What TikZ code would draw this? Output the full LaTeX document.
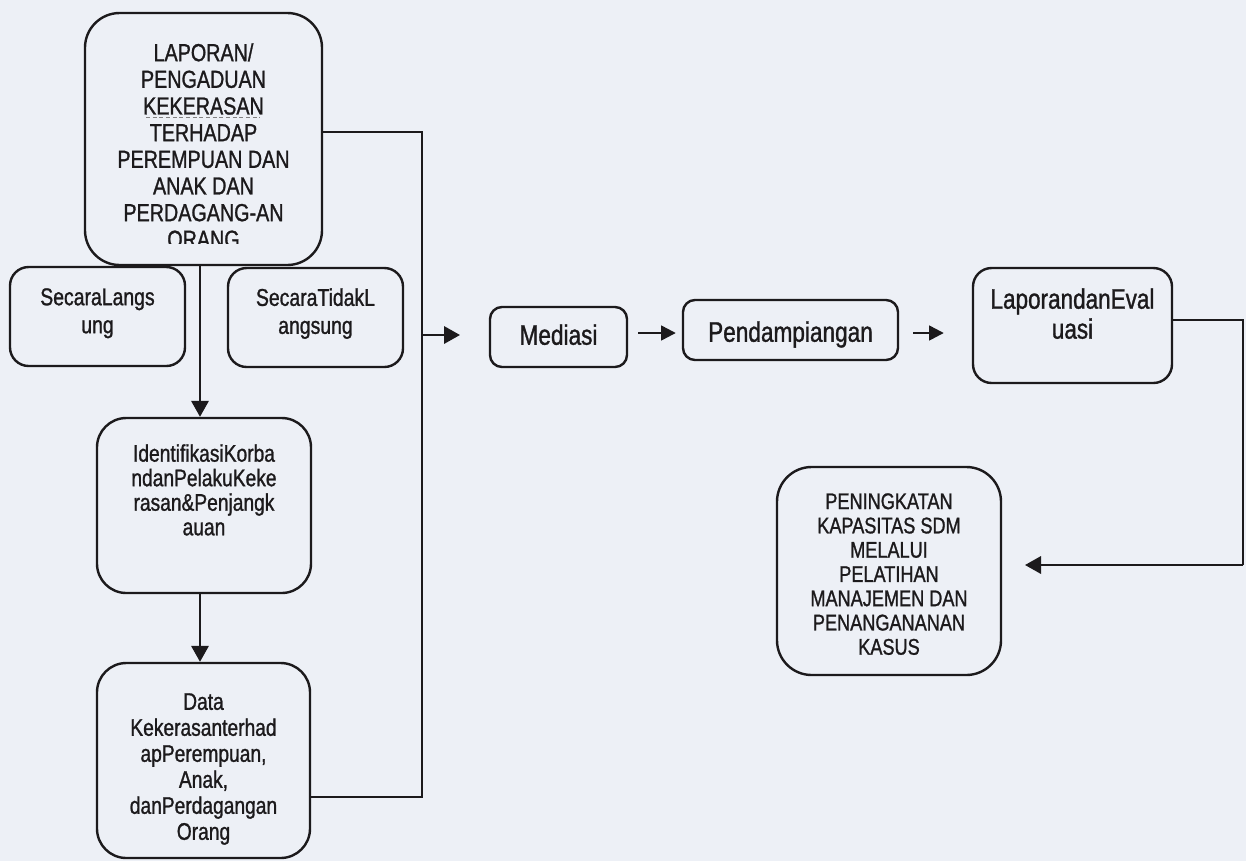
\documentclass[tikz,border=0pt]{standalone}
\usepackage{fontspec}
\setmainfont{Liberation Sans}[FakeStretch=0.80,FakeBold=1.1]
\usetikzlibrary{arrows.meta,fit,calc}
\definecolor{paper}{RGB}{237,240,246}
\definecolor{ink}{RGB}{28,26,28}
\begin{document}
\begin{tikzpicture}[x=0.75pt,y=-0.75pt,
  box/.style={draw=ink, line width=1.8pt, inner sep=0pt},
  txt/.style={align=center, inner sep=0pt, text=ink, anchor=north},
  conn/.style={draw=ink, line width=1.8pt},
  arr/.style={conn, -{Triangle[length=12pt,width=13pt]}},
  arrs/.style={conn, -{Triangle[length=11pt,width=11pt]}}]
\fill[paper] (0,0) rectangle (1246,861);
\useasboundingbox (0,0) rectangle (1246,861);

% boxes
\node[box, rounded corners=26pt, fit={(85,13) (322,265)}] (top) {};
\node[box, rounded corners=14pt, fit={(10,267) (185,366)}] (lang) {};
\node[box, rounded corners=14pt, fit={(228,268) (403,367)}] (tlang) {};
\node[box, rounded corners=22pt, fit={(97,418) (311,593)}] (ident) {};
\node[box, rounded corners=22pt, fit={(97,663) (310,858)}] (data) {};
\node[box, rounded corners=9pt, fit={(490,307) (627,367)}] (med) {};
\node[box, rounded corners=9pt, fit={(683,300) (898,360)}] (pend) {};
\node[box, rounded corners=14pt, fit={(973,268) (1172,383)}] (lapev) {};
\node[box, rounded corners=26pt, fit={(777,467) (1001,675)}] (pen) {};

% texts
\begin{scope}
  \clip (85,13) rectangle (322,243);
  \node[txt, font=\fontsize{18.5}{20}\selectfont] (topT) at (203.5,43)
    {LAPORAN/\\PENGADUAN\\KEKERASAN\\TERHADAP\\PEREMPUAN DAN\\ANAK DAN\\PERDAGANG-AN\\ORANG};
\end{scope}
% spelling squiggle under KEKERASAN
\draw[ink!55, line width=0.7pt, dash pattern=on 3pt off 2pt] (146,117.5) -- (260,117.5);
\node[txt, font=\fontsize{18.2}{21}\selectfont] (langT) at (97.5,288) {SecaraLangs\\ung};
\node[txt, font=\fontsize{18.2}{21}\selectfont] (tlangT) at (315.5,288) {SecaraTidakL\\angsung};
\node[txt, font=\fontsize{18}{18.4}\selectfont] (identT) at (204,444)
  {IdentifikasiKorba\\ndanPelakuKeke\\rasan\&Penjangk\\auan};
\begin{scope}
  \clip (97,663) rectangle (310,846);
  \node[txt, font=\fontsize{18}{19.5}\selectfont] (dataT) at (203.5,693)
    {Data\\Kekerasanterhad\\apPerempuan,\\Anak,\\danPerdagangan\\Orang};
\end{scope}
\node[txt, font=\fontsize{21.2}{22}\selectfont] (medT) at (558.5,324) {Mediasi};
\node[txt, font=\fontsize{21.2}{22}\selectfont] (pendT) at (790.5,321) {Pendampiangan};
\node[txt, font=\fontsize{21.1}{22.5}\selectfont] (lapevT) at (1072.5,288) {LaporandanEval\\uasi};
\node[txt, font=\fontsize{17}{18.2}\selectfont] (penT) at (889,493)
  {PENINGKATAN\\KAPASITAS SDM\\MELALUI\\PELATIHAN\\MANAJEMEN DAN\\PENANGANANAN\\KASUS};

% connector points
\coordinate (busTop) at (422,132);
\coordinate (busBot) at (422,797);
\coordinate (tap) at (422,335);
\coordinate (medIn) at (460,335);
\coordinate (downX) at (200,0);
\coordinate (outR) at (1243,320);
\coordinate (outD) at (1243,565);
\coordinate (penIn) at (1025,565);

% connectors
\draw[conn] (top.east |- busTop) -- (busTop) -- (busBot) -- (data.east |- busBot);
\draw[arr] (tap) -- (medIn);
\draw[arr] (top.south -| downX) -- (ident.north -| downX);
\draw[arr] (ident.south -| downX) -- (data.north -| downX);
\draw[arrs] ($(med.east)+(10,-4)$) -- ($(pend.west)+(-6,3)$);
\draw[arrs] ($(pend.east)+(14,3)$) -- ($(lapev.west)+(-28,7.5)$);
\draw[conn] (lapev.east |- outR) -- (outR) -- (outD);
\draw[arr] (outD) -- (penIn);
\end{tikzpicture}
\end{document}
